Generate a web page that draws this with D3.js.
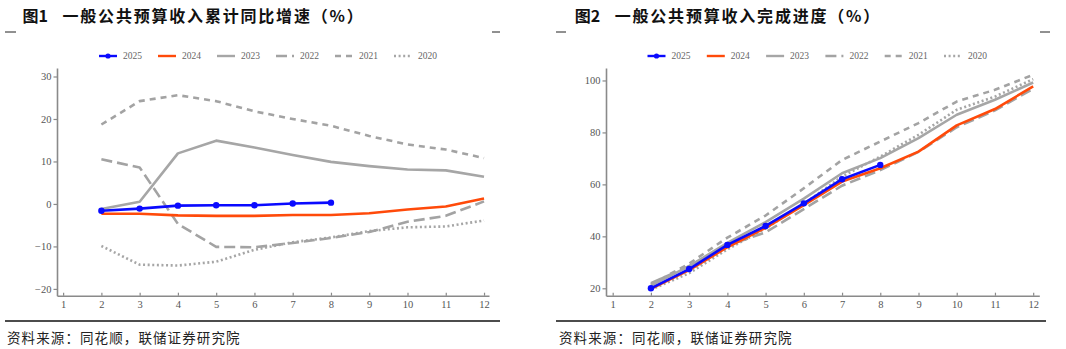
<!DOCTYPE html>
<html>
<head>
<meta charset="utf-8">
<script src="https://cdn.jsdelivr.net/npm/d3@7"></script>
<style>
  html, body { margin: 0; padding: 0; background: #fff; }
  svg { display: block; }
</style>
</head>
<body>
<svg id="chart" width="1066" height="349"></svg>
<script>
// Months (cumulative through month N)
const months = [2, 3, 4, 5, 6, 7, 8, 9, 10, 11, 12];
const xTicks = [1, 2, 3, 4, 5, 6, 7, 8, 9, 10, 11, 12];
const years = ["2025", "2024", "2023", "2022", "2021", "2020"];

// Figure 1: cumulative YoY growth of general public budget revenue (%)
const growth2025 = [-1.6, -1.1, -0.4, -0.3, -0.3, 0.1, 0.3];
const growth2024 = [-2.3, -2.3, -2.7, -2.8, -2.8, -2.6, -2.6, -2.2, -1.3, -0.6, 1.3];
const growth2023 = [-1.2, 0.5, 11.9, 14.9, 13.3, 11.5, 9.9, 8.9, 8.1, 7.9, 6.4];
const growth2022 = [10.5, 8.6, -4.7, -10.1, -10.2, -9.2, -8.0, -6.6, -4.2, -2.8, 0.6];
const growth2021 = [18.7, 24.2, 25.6, 24.2, 21.8, 20.0, 18.4, 16.0, 14.0, 12.8, 10.8];
const growth2020 = [-9.9, -14.3, -14.5, -13.6, -10.8, -9.0, -7.9, -6.4, -5.5, -5.3, -3.9];
const growthTicks = [-20, -10, 0, 10, 20, 30];

// Figure 2: completion progress of general public budget revenue (%)
const progress2025 = [20.0, 27.4, 36.7, 44.0, 52.7, 62.0, 67.5];
const progress2024 = [19.8, 27.0, 35.8, 43.3, 52.0, 61.1, 66.2, 72.6, 82.7, 89.0, 97.7];
const progress2023 = [21.0, 28.5, 37.5, 45.5, 54.5, 64.3, 70.1, 77.8, 86.8, 92.6, 99.2];
const progress2022 = [22.0, 28.5, 36.5, 41.5, 50.5, 59.5, 65.5, 72.5, 82.0, 88.5, 96.8];
const progress2021 = [21.5, 29.5, 39.5, 48.0, 58.5, 69.4, 76.5, 83.6, 91.9, 96.4, 102.2];
const progress2020 = [19.5, 25.8, 35.0, 43.0, 52.5, 63.0, 70.7, 79.1, 88.7, 93.8, 100.5];
const progressTicks = [20, 40, 60, 80, 100];

// Line styles per year
const styles = {
  "2025": { color: "#0a0aff", dash: null, marker: true },
  "2024": { color: "#ff4a0a", dash: null },
  "2023": { color: "#a6a6a6", dash: null },
  "2022": { color: "#a3a3a3", dash: "11,5" },
  "2021": { color: "#a3a3a3", dash: "6,5" },
  "2020": { color: "#a6a6a6", dash: "2,2.6" }
};

const svg = d3.select("#chart");
const serif = "'Liberation Serif', 'DejaVu Serif', serif";
const cjk = "'Noto Sans CJK SC', 'Noto Sans', sans-serif";

function drawPanel(cfg) {
  const g = svg.append("g");

  // Header: figure label, title, corner marks
  g.append("text").attr("x", cfg.titleX).attr("y", 22)
    .attr("font-family", cjk).attr("font-weight", 700).attr("font-size", 16)
    .attr("fill", "#111").text(cfg.label);
  g.append("text").attr("x", cfg.titleX + 40).attr("y", 22)
    .attr("font-family", cjk).attr("font-weight", 700).attr("font-size", 16)
    .attr("letter-spacing", 1.8).attr("fill", "#111").text(cfg.title);
  cfg.marks.forEach(m => {
    g.append("line").attr("x1", m[0]).attr("x2", m[1]).attr("y1", 32).attr("y2", 32)
      .attr("stroke", "#222").attr("stroke-width", 1);
  });

  // Scales
  const x = d3.scaleLinear().domain(cfg.xDomain).range(cfg.xRange);
  const y = d3.scaleLinear().domain(cfg.yDomain).range([295.7, 68]);

  // Axes
  const xAxis = g.append("g").attr("transform", `translate(0,${y.range()[0]})`)
    .call(d3.axisBottom(x).tickValues(xTicks).tickFormat(d3.format("d"))
      .tickSizeInner(-3).tickSizeOuter(0).tickPadding(5));
  const yAxis = g.append("g").attr("transform", `translate(${x.range()[0]},0)`)
    .call(d3.axisLeft(y).tickValues(cfg.yTicks).tickFormat(d3.format("d"))
      .tickSizeInner(3.5).tickSizeOuter(0).tickPadding(2));
  [xAxis, yAxis].forEach(a => {
    a.select(".domain").attr("stroke", "#8a8a8a").attr("stroke-width", 1.6);
    a.selectAll(".tick line").attr("stroke", "#8a8a8a").attr("stroke-width", 1.2);
    a.selectAll(".tick text").attr("font-family", serif).attr("font-size", 10.5)
      .attr("fill", "#555");
  });

  // Series, grey years first so the current ones sit on top
  const line = d3.line().x((d, i) => x(months[i])).y(d => y(d));
  const order = ["2020", "2021", "2022", "2023", "2024", "2025"];
  order.forEach(yr => {
    const st = styles[yr];
    const vals = cfg.series[yr];
    g.append("path").datum(vals)
      .attr("d", line).attr("fill", "none")
      .attr("stroke", st.color).attr("stroke-width", 2.6)
      .attr("stroke-linejoin", "round")
      .attr("stroke-dasharray", st.dash);
    if (st.marker) {
      g.selectAll(null).data(vals).enter().append("circle")
        .attr("cx", (d, i) => x(months[i])).attr("cy", d => y(d))
        .attr("r", 3.2).attr("fill", st.color);
    }
  });

  // Legend
  const lg = g.append("g");
  years.forEach((yr, i) => {
    const st = styles[yr];
    const tx = cfg.legendX + i * cfg.legendStep;
    lg.append("line").attr("x1", tx - 24).attr("x2", tx - 6).attr("y1", 56).attr("y2", 56)
      .attr("stroke", st.color).attr("stroke-width", 2.4)
      .attr("stroke-dasharray", st.dash);
    if (st.marker) {
      lg.append("circle").attr("cx", tx - 15).attr("cy", 56).attr("r", 2.6).attr("fill", st.color);
    }
    lg.append("text").attr("x", tx).attr("y", 59.3)
      .attr("font-family", serif).attr("font-size", 9.5).attr("fill", "#666").text(yr);
  });

  // Source line
  g.append("line").attr("x1", cfg.ruleX[0]).attr("x2", cfg.ruleX[1]).attr("y1", 321).attr("y2", 321)
    .attr("stroke", "#111").attr("stroke-width", 1.3);
  g.append("text").attr("x", cfg.sourceX).attr("y", 342.5)
    .attr("font-family", cjk).attr("font-size", 13.5).attr("letter-spacing", 1.1)
    .attr("fill", "#222").text("资料来源：同花顺，联储证券研究院");
}

drawPanel({
  label: "图1",
  title: "一般公共预算收入累计同比增速（%）",
  titleX: 22.5,
  marks: [[5, 16], [492, 500]],
  xDomain: [0.84, 12.13], xRange: [57, 489],
  yDomain: [-21.6, 32], yTicks: growthTicks,
  series: { "2025": growth2025, "2024": growth2024, "2023": growth2023,
            "2022": growth2022, "2021": growth2021, "2020": growth2020 },
  legendX: 123, legendStep: 59,
  ruleX: [5, 500], sourceX: 7
});

drawPanel({
  label: "图2",
  title: "一般公共预算收入完成进度（%）",
  titleX: 574.7,
  marks: [[556, 566], [1040, 1050]],
  xDomain: [0.825, 12.16], xRange: [606, 1039.3],
  yDomain: [17.15, 104.8], yTicks: progressTicks,
  series: { "2025": progress2025, "2024": progress2024, "2023": progress2023,
            "2022": progress2022, "2021": progress2021, "2020": progress2020 },
  legendX: 671.5, legendStep: 59.3,
  ruleX: [556, 1046], sourceX: 559
});
</script>
</body>
</html>
